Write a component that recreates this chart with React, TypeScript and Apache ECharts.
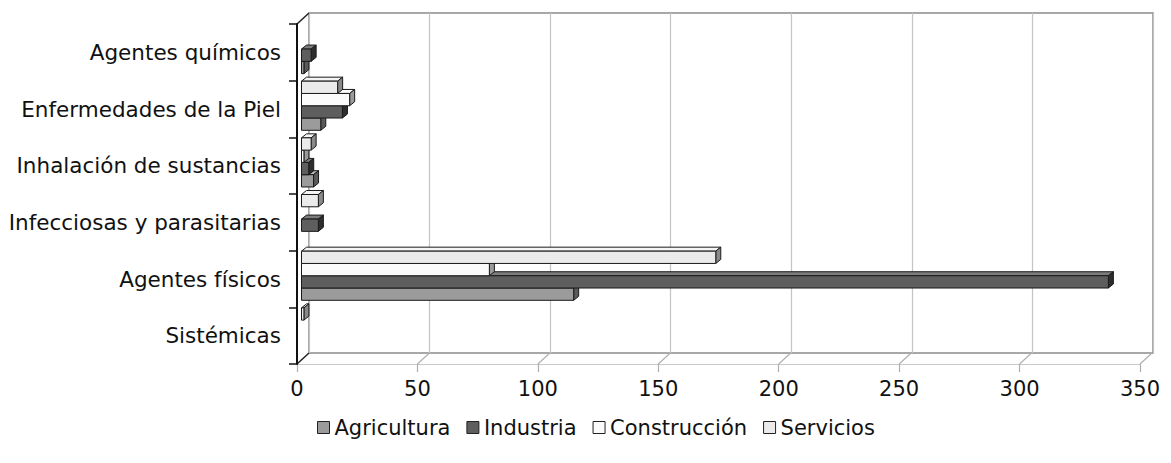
import React, { useEffect, useRef } from "react";
import * as echarts from "echarts";

const categories = [
  "Sistémicas",
  "Agentes físicos",
  "Infecciosas y parasitarias",
  "Inhalación de sustancias",
  "Enfermedades de la Piel",
  "Agentes químicos",
];
const seriesNames = ["Agricultura", "Industria", "Construcción", "Servicios"];
const agricultura = [0, 113, 0, 5, 8, 1];
const industria = [0, 335, 7, 3, 17, 4];
const construccion = [0, 78, 0, 1, 20, 0];
const servicios = [1, 172, 7, 4, 15, 0];
const xTicks = [0, 50, 100, 150, 200, 250, 300, 350];

const palette = [
  { front: "#9b9b9b", top: "#b9b9b9", side: "#5a5a5a" },
  { front: "#5e5e5e", top: "#7c7c7c", side: "#2e2e2e" },
  { front: "#fbfbfb", top: "#ffffff", side: "#9a9a9a" },
  { front: "#ebebeb", top: "#f5f5f5", side: "#8a8a8a" },
];

const FONT = "DejaVu Sans";
const DX = 5;
const DY = -4;

function makeRender(k: number) {
  const c = palette[k];
  return (params: any, api: any) => {
    const v = api.value(0) as number;
    const ci = api.value(1) as number;
    if (!v) return null;
    const p0 = api.coord([0, ci]);
    const p1 = api.coord([v, ci]);
    const H = api.size([0, 1])[1];
    const bh = H * 0.2168;
    const yb = p0[1] + H * 0.376 - k * bh;
    const yt = yb - bh;
    const x0 = p0[0] + 4.5;
    const x1 = p1[0] + 4.5;
    const stroke = "#1a1a1a";
    return {
      type: "group",
      children: [
        {
          type: "polygon",
          shape: { points: [[x0, yt], [x0 + DX, yt + DY], [x1 + DX, yt + DY], [x1, yt]] },
          style: { fill: c.top, stroke, lineWidth: 1 },
        },
        {
          type: "polygon",
          shape: { points: [[x1, yt], [x1 + DX, yt + DY], [x1 + DX, yb + DY], [x1, yb]] },
          style: { fill: c.side, stroke, lineWidth: 1 },
        },
        {
          type: "rect",
          shape: { x: x0, y: yt, width: x1 - x0, height: bh },
          style: { fill: c.front, stroke, lineWidth: 1 },
        },
      ],
    };
  };
}

export default function App() {
  const ref = useRef<HTMLDivElement>(null);
  useEffect(() => {
    if (!ref.current) return;
    const chart = echarts.init(ref.current, undefined, { renderer: "svg" });
    const all = [agricultura, industria, construccion, servicios];
    const barSeries = all.map((arr, k) => ({
      type: "custom",
      name: seriesNames[k],
      xAxisIndex: 0,
      yAxisIndex: 0,
      renderItem: makeRender(k),
      encode: { x: 0, y: 1 },
      itemStyle: { color: palette[k].front, borderColor: "#222", borderWidth: 1 },
      data: arr.map((v, i) => [v, i]),
      z: 5,
    }));
    const floorSeries = {
      type: "custom",
      name: "floor",
      xAxisIndex: 0,
      yAxisIndex: 0,
      silent: true,
      encode: { x: 0, y: 1 },
      data: xTicks.map((v) => [v, 0]),
      z: 1,
      renderItem: (params: any, api: any) => {
        const v = api.value(0) as number;
        const p = api.coord([v, 0]);
        const cs = params.coordSys;
        const yB = cs.y + cs.height;
        const children: any[] = [
          {
            type: "line",
            shape: { x1: p[0], y1: yB, x2: p[0] + 12, y2: yB - 11 },
            style: { stroke: v === 0 ? "#222" : "#b0b0b0", lineWidth: v === 0 ? 1.5 : 1.2 },
          },
        ];
        if (v === 0) {
          children.push({
            type: "line",
            shape: { x1: cs.x, y1: cs.y, x2: cs.x + 12, y2: cs.y - 11 },
            style: { stroke: "#222", lineWidth: 1.5 },
          });
        }
        return { type: "group", children };
      },
    };
    const option: any = {
      animation: false,
      backgroundColor: "#ffffff",
      legend: {
        left: 312,
        top: 412,
        icon: "rect",
        itemWidth: 12,
        itemHeight: 12,
        itemGap: 16,
        textStyle: { fontFamily: FONT, fontSize: 21, color: "#111" },
        data: seriesNames.map((n, k) => ({
          name: n,
          itemStyle: { color: palette[k].front, borderColor: "#222", borderWidth: 1 },
        })),
      },
      grid: [
        { left: 297, right: 31, top: 24, bottom: 99, show: false },
        {
          left: 309,
          right: 18,
          top: 13,
          bottom: 110,
          show: true,
          borderColor: "#8c8c8c",
          borderWidth: 1.5,
          backgroundColor: "transparent",
        },
      ],
      xAxis: [
        {
          type: "value",
          gridIndex: 0,
          min: 0,
          max: 350,
          interval: 50,
          splitLine: { show: false },
          axisLine: { show: true, lineStyle: { color: "#c8c8c8", width: 1.2 } },
          axisTick: { show: true, length: 8, lineStyle: { color: "#b0b0b0", width: 1.2 } },
          axisLabel: { fontFamily: FONT, fontSize: 21, color: "#111", margin: 14 },
        },
        {
          type: "value",
          gridIndex: 1,
          min: 0,
          max: 350,
          interval: 50,
          axisLine: { show: false },
          axisTick: { show: false },
          axisLabel: { show: false },
          splitLine: { show: true, lineStyle: { color: "#c4c4c4", width: 1.2 } },
        },
      ],
      yAxis: [
        {
          type: "category",
          gridIndex: 0,
          data: categories,
          boundaryGap: true,
          axisLine: { show: true, lineStyle: { color: "#111", width: 2 } },
          axisTick: { show: true, length: 8, lineStyle: { color: "#111", width: 1.5 } },
          axisLabel: { fontFamily: FONT, fontSize: 21.5, color: "#111", margin: 16 },
          splitLine: { show: false },
          z: 10,
        },
        {
          type: "value",
          gridIndex: 1,
          show: false,
          splitLine: { show: false },
        },
      ],
      series: [floorSeries, ...barSeries],
    };
    chart.setOption(option);
    return () => chart.dispose();
  }, []);
  return (
    <div
      ref={ref}
      style={{ position: "fixed", left: 0, top: 0, width: 1171, height: 463, background: "#fff" }}
    />
  );
}
